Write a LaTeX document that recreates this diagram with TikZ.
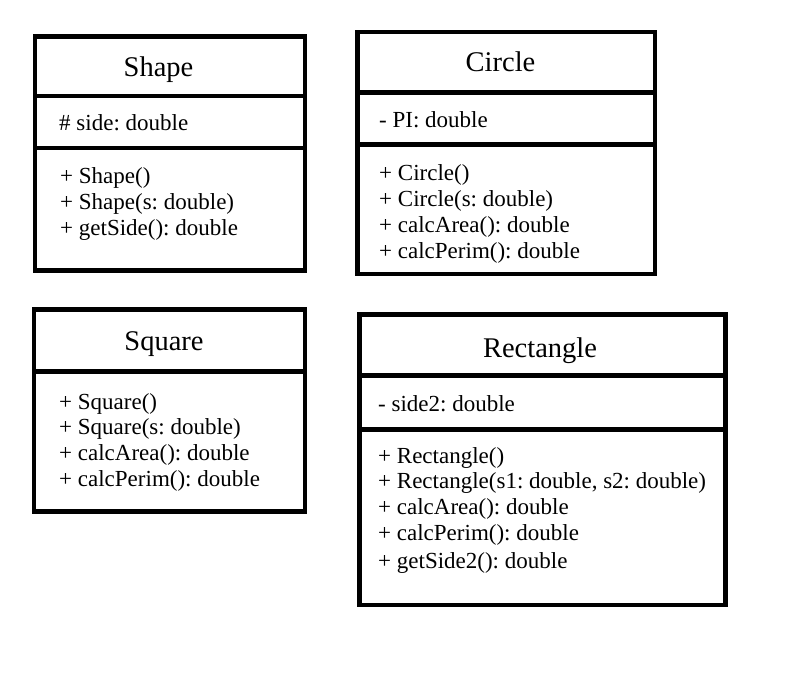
\documentclass[tikz,border=0pt]{standalone}
\usepackage{fontspec}
\setmainfont{Liberation Serif}
\usetikzlibrary{positioning}
\frenchspacing

\begin{document}
\begin{tikzpicture}[x=1pt, y=-1pt, node distance=0pt,
    part/.style={draw, line width=4.5pt, inner sep=0pt, outer sep=0pt},
    title/.style={anchor=base, inner sep=0pt, yshift=-2pt, font=\fontsize{28.5}{30}\selectfont},
    member/.style={anchor=base west, inner sep=0pt, yshift=-2pt, font=\fontsize{23}{26}\selectfont}]
        \useasboundingbox (0,0) rectangle (786,676);

        % Shape
        \node[part, minimum width=270pt, minimum height=59.5pt]            (shape_t) at (170,66.25) {};
        \node[part, minimum width=270pt, minimum height=52pt,    below=of shape_t] (shape_a) {};
        \node[part, minimum width=270pt, minimum height=122.5pt, below=of shape_a] (shape_m) {};
        \node[title]  (shape_n)  at (158.5,75) {Shape};
        \node[member] (shape_f)  at (59,129)   {\# side: double};
        \node[member] (shape_o1) at (60,182)   {+ Shape()};
        \node[member] (shape_o2) at (60,207.7) {+ Shape(s: double)};
        \node[member] (shape_o3) at (60,233.4) {+ getSide(): double};

        % Circle
        \node[part, minimum width=297.5pt, minimum height=60.5pt]           (circle_t) at (506.25,62.25) {};
        \node[part, minimum width=297.5pt, minimum height=52pt,    below=of circle_t] (circle_a) {};
        \node[part, minimum width=297.5pt, minimum height=129.5pt, below=of circle_a] (circle_m) {};
        \node[title]  (circle_n)  at (500.5,70) {Circle};
        \node[member] (circle_f)  at (379,126)  {- PI: double};
        \node[member] (circle_o1) at (379,179)  {+ Circle()};
        \node[member] (circle_o2) at (379,204.7) {+ Circle(s: double)};
        \node[member] (circle_o3) at (379,230.4) {+ calcArea(): double};
        \node[member] (circle_o4) at (379,256.1) {+ calcPerim(): double};

        % Square
        \node[part, minimum width=271pt, minimum height=62pt]            (square_t) at (169.5,340.5) {};
        \node[part, minimum width=271pt, minimum height=140pt, below=of square_t] (square_m) {};
        \node[title]  (square_n)  at (164,348)   {Square};
        \node[member] (square_o1) at (59,407)    {+ Square()};
        \node[member] (square_o2) at (59,432.7)  {+ Square(s: double)};
        \node[member] (square_o3) at (59,458.4)  {+ calcArea(): double};
        \node[member] (square_o4) at (59,484.1)  {+ calcPerim(): double};

        % Rectangle
        \node[part, minimum width=366pt, minimum height=61pt]            (rect_t) at (542.5,345) {};
        \node[part, minimum width=366pt, minimum height=54pt,    below=of rect_t] (rect_a) {};
        \node[part, minimum width=366pt, minimum height=175.5pt, below=of rect_a] (rect_m) {};
        \node[title]  (rect_n)  at (540,355)   {Rectangle};
        \node[member] (rect_f)  at (378,409)   {- side2: double};
        \node[member] (rect_o1) at (378,461)   {+ Rectangle()};
        \node[member] (rect_o2) at (378,486.7) {+ Rectangle(s1: double, s2: double)};
        \node[member] (rect_o3) at (378,512.4) {+ calcArea(): double};
        \node[member] (rect_o4) at (378,538.1) {+ calcPerim(): double};
        \node[member] (rect_o5) at (378,566.5) {+ getSide2(): double};
\end{tikzpicture}
\end{document}
